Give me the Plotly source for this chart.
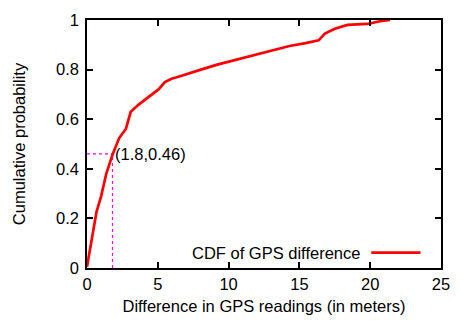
import plotly.graph_objects as go

gps_diff = [0.0, 0.2, 0.67, 1.0, 1.36, 1.82, 2.28, 2.74, 3.09, 3.67, 4.13, 5.05, 5.5, 5.97, 6.4,
            7.36, 8.05, 9.2, 10.6, 11.97, 12.67, 13.4, 14.3, 15.44, 16.36, 16.8, 17.5, 18.4,
            19.8, 20.7, 21.4]
cum_prob = [0.005, 0.07, 0.226, 0.29, 0.38, 0.46, 0.525, 0.56, 0.63, 0.66, 0.68, 0.72, 0.75, 0.763,
            0.77, 0.786, 0.80, 0.82, 0.84, 0.86, 0.872, 0.88, 0.895, 0.907, 0.918, 0.945, 0.965,
            0.98, 0.984, 0.995, 1.0]
mark_x, mark_y = 1.8, 0.46
x_ticks = [0, 5, 10, 15, 20, 25]
y_ticks = [0, 0.2, 0.4, 0.6, 0.8, 1]
y_tick_labels = ["0", "0.2", "0.4", "0.6", "0.8", "1"]

font = "Liberation Sans, Arial, Helvetica, sans-serif"
fs = 16.5

fig = go.Figure()
fig.add_trace(go.Scatter(x=[0, mark_x], y=[mark_y, mark_y], mode="lines",
                         line=dict(color="#ff00ff", width=1.2, dash="dot"), showlegend=False))
fig.add_trace(go.Scatter(x=[mark_x, mark_x], y=[0, mark_y], mode="lines",
                         line=dict(color="#ff00ff", width=1.2, dash="dot"), showlegend=False))
fig.add_trace(go.Scatter(x=gps_diff, y=cum_prob, mode="lines",
                         line=dict(color="#ff0000", width=2.7), showlegend=False))

fig.add_annotation(x=mark_x, y=mark_y, text=f"({mark_x},{mark_y})", showarrow=False,
                   xanchor="left", yanchor="middle", xshift=1,
                   font=dict(family=font, size=fs, color="black"))

# legend (text then line sample, as in the reference)
fig.add_annotation(xref="paper", yref="paper", x=0.776, y=0.062, text="CDF of GPS difference",
                   showarrow=False, xanchor="right", yanchor="middle",
                   font=dict(family=font, size=fs, color="black"))
fig.add_shape(type="line", xref="paper", yref="paper", x0=0.803, x1=0.942, y0=0.062, y1=0.062,
              line=dict(color="#ff0000", width=2.7))

axis_common = dict(showgrid=False, zeroline=False, showline=True, linecolor="black", linewidth=1.5,
                   mirror="ticks", ticks="inside", ticklen=6, tickwidth=1.5, tickcolor="black",
                   tickfont=dict(family=font, size=fs, color="black"))

fig.update_xaxes(range=[0, 25], tickvals=x_ticks, title=dict(text="Difference in GPS readings (in meters)",
                 font=dict(family=font, size=fs, color="black"), standoff=9), **axis_common)
fig.update_yaxes(range=[0, 1], tickvals=y_ticks, ticktext=y_tick_labels, ticklabelstandoff=3,
                 title=dict(text="Cumulative probability", font=dict(family=font, size=fs, color="black"),
                            standoff=26), **axis_common)

fig.update_layout(width=461, height=324, margin=dict(l=87, r=13, t=11, b=56),
                  plot_bgcolor="white", paper_bgcolor="white")

fig.write_html("out.html", config={"displayModeBar": False},
               post_script="document.body.style.margin='0';document.body.style.overflow='hidden';")
